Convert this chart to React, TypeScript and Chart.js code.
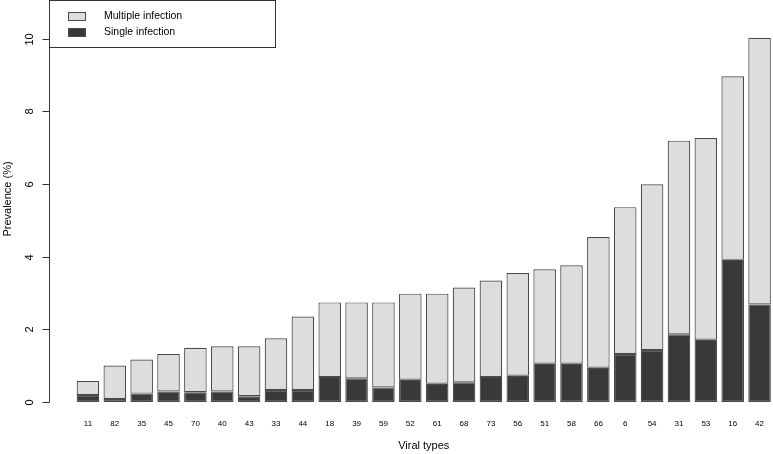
import React, { useEffect, useRef } from "react";
import { Chart, registerables } from "chart.js";

Chart.register(...registerables);

const categories = ["11", "82", "35", "45", "70", "40", "43", "33", "44", "18", "39", "59", "52", "61", "68", "73", "56", "51", "58", "66", "6", "54", "31", "53", "16", "42"];
const singleInfection = [0.19, 0.08, 0.23, 0.29, 0.27, 0.29, 0.16, 0.33, 0.33, 0.69, 0.65, 0.40, 0.61, 0.50, 0.54, 0.69, 0.72, 1.05, 1.05, 0.94, 1.32, 1.43, 1.86, 1.71, 3.91, 2.68];
const multipleInfection = [0.39, 0.92, 0.94, 1.03, 1.22, 1.24, 1.37, 1.42, 2.02, 2.05, 2.09, 2.34, 2.37, 2.48, 2.61, 2.65, 2.83, 2.60, 2.71, 3.60, 4.04, 4.56, 5.33, 5.55, 5.05, 7.34];
const yTicks = [0, 2, 4, 6, 8, 10];
const xTitle = "Viral types";
const yTitle = "Prevalence (%)";

const FONT = '"Liberation Sans", Arial, Helvetica, sans-serif';
const LIGHT = "#dddddd";
const DARK = "#393939";
const EDGE = "#4a4a4a";

const rStylePlugin = {
  id: "rStyle",
  afterDraw(chart: any) {
    const ctx = chart.ctx as CanvasRenderingContext2D;
    const y = chart.scales.y;
    ctx.save();
    // y axis
    const ax = 49.5;
    ctx.strokeStyle = "#333";
    ctx.lineWidth = 1;
    ctx.beginPath();
    ctx.moveTo(ax, Math.round(y.getPixelForValue(yTicks[0])) + 0.5);
    ctx.lineTo(ax, Math.round(y.getPixelForValue(yTicks[yTicks.length - 1])) + 0.5);
    ctx.stroke();
    ctx.fillStyle = "#000";
    ctx.font = `11px ${FONT}`;
    ctx.textAlign = "center";
    ctx.textBaseline = "middle";
    for (const t of yTicks) {
      const py = Math.round(y.getPixelForValue(t)) + 0.5;
      ctx.beginPath();
      ctx.moveTo(ax - 7, py);
      ctx.lineTo(ax, py);
      ctx.stroke();
      ctx.save();
      ctx.translate(30, py);
      ctx.rotate(-Math.PI / 2);
      ctx.fillText(String(t), 0, 0);
      ctx.restore();
    }
    ctx.save();
    ctx.translate(7.5, 199);
    ctx.rotate(-Math.PI / 2);
    ctx.fillText(yTitle, 0, 0);
    ctx.restore();

    // legend box
    ctx.fillStyle = "#fff";
    ctx.fillRect(49.5, 0.5, 226, 47);
    ctx.strokeStyle = "#333";
    ctx.strokeRect(49.5, 0.5, 226, 47);
    const ds = chart.data.datasets;
    const items = [ds[1], ds[0]];
    items.forEach((d: any, i: number) => {
      const cy = 16.5 + i * 16;
      ctx.fillStyle = d.backgroundColor;
      ctx.fillRect(68.5, cy - 4, 17, 8);
      ctx.strokeStyle = EDGE;
      ctx.strokeRect(68.5, cy - 4, 17, 8);
      ctx.fillStyle = "#000";
      ctx.textAlign = "left";
      ctx.textBaseline = "middle";
      ctx.font = `10.5px ${FONT}`;
      ctx.fillText(d.label, 104, cy);
    });
    ctx.restore();
  },
};

export default function App() {
  const ref = useRef<HTMLCanvasElement | null>(null);
  useEffect(() => {
    document.body.style.margin = "0";
    const canvas = ref.current!;
    const chart = new Chart(canvas, {
      type: "bar",
      data: {
        labels: categories,
        datasets: [
          {
            label: "Single infection",
            data: singleInfection,
            backgroundColor: DARK,
            borderColor: EDGE,
            borderWidth: 1.2,
            borderSkipped: false,
          },
          {
            label: "Multiple infection",
            data: multipleInfection,
            backgroundColor: LIGHT,
            borderColor: EDGE,
            borderWidth: 1.2,
            borderSkipped: false,
          },
        ],
      },
      options: {
        responsive: false,
        animation: false,
        devicePixelRatio: 1,
        layout: { padding: { left: 74.5, right: 0, top: 0, bottom: 0 } },
        datasets: { bar: { barPercentage: 0.84, categoryPercentage: 1 } },
        plugins: { legend: { display: false }, tooltip: { enabled: false } },
        scales: {
          x: {
            stacked: true,
            offset: true,
            grid: { display: false, drawTicks: false },
            border: { display: false },
            ticks: {
              autoSkip: false,
              maxRotation: 0,
              minRotation: 0,
              padding: 2,
              color: "#000",
              font: { family: FONT, size: 8 },
            },
            title: {
              display: true,
              text: xTitle,
              color: "#000",
              font: { family: FONT, size: 11 },
              padding: { top: 9.3, bottom: 1.4 },
            },
          },
          y: {
            stacked: true,
            display: false,
            min: -0.4,
            max: 11.06,
          },
        },
      },
      plugins: [rStylePlugin],
    } as any);
    return () => chart.destroy();
  }, []);
  return <canvas ref={ref} width={773} height={454} style={{ display: "block" }} />;
}
